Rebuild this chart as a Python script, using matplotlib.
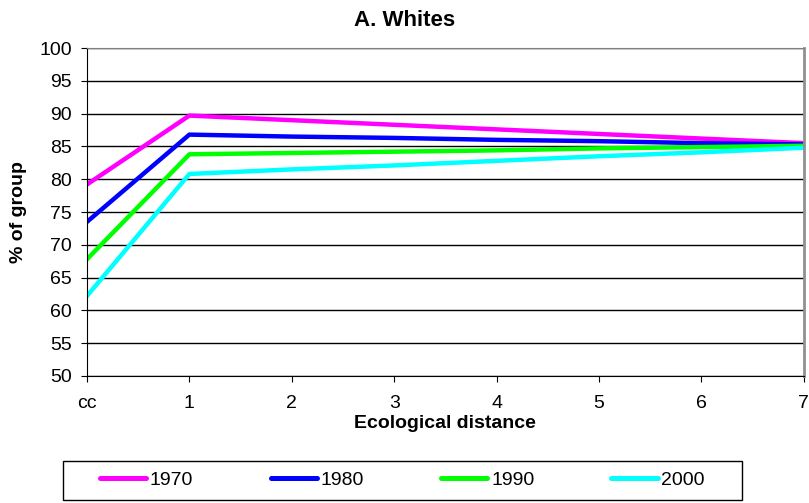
import matplotlib
matplotlib.use("Agg")
import matplotlib.pyplot as plt
from matplotlib.patches import Rectangle

categories = ["cc", "1", "2", "3", "4", "5", "6", "7"]
years = ["1970", "1980", "1990", "2000"]
colors = ["#ff00ff", "#0000ff", "#00ff00", "#00ffff"]
v1970 = [79.2, 89.7, 89.0, 88.3, 87.6, 86.9, 86.2, 85.5]
v1980 = [73.5, 86.8, 86.5, 86.3, 86.0, 85.8, 85.5, 85.3]
v1990 = [67.8, 83.8, 84.0, 84.2, 84.4, 84.7, 84.9, 85.1]
v2000 = [62.2, 80.8, 81.5, 82.1, 82.8, 83.5, 84.1, 84.8]
series = [v1970, v1980, v1990, v2000]

plt.rcParams['font.family'] = ['Liberation Sans', 'DejaVu Sans']

fig = plt.figure(figsize=(8.09, 5.03), dpi=100)
ax = fig.add_axes([0.1075, 0.2525, 0.886, 0.652])

x = list(range(len(categories)))
for vals, lab, c in zip(series, years, colors):
    ax.plot(x, vals, color=c, lw=3.2, label=lab)

ax.set_xlim(0, len(categories) - 1)
ax.set_ylim(50, 100)
ax.set_yticks(range(50, 101, 5))
ax.set_xticks(x)
ax.set_xticklabels(categories)
ax.yaxis.grid(True, color='black', lw=1)
ax.set_axisbelow(True)
ax.tick_params(axis='y', labelsize=14, length=4, direction='out', pad=7)
ax.tick_params(axis='x', labelsize=14, length=4, direction='out', pad=10)
ax.spines['top'].set_color('#808080')
ax.spines['right'].set_color('#909090')
ax.spines['right'].set_linewidth(2)

ax.set_xlabel("Ecological distance", fontsize=14, fontweight='bold', labelpad=2)
ax.set_ylabel("% of group", fontsize=14, fontweight='bold', labelpad=9)
fig.suptitle("A. Whites", x=0.5, y=1 - 26 / 503, va='baseline',
             fontsize=16, fontweight='bold')

# legend box
fig.patches.append(Rectangle((63 / 809, 3 / 503), 679 / 809, 39 / 503,
                             transform=fig.transFigure, fill=False,
                             edgecolor='black', lw=1))
handles, labels = ax.get_legend_handles_labels()
leg = fig.legend(handles, labels, loc='center', bbox_to_anchor=(0.4975, 0.0457),
                 ncol=4, frameon=False, fontsize=14, handlelength=2.37,
                 handletextpad=0.2, columnspacing=3.97, borderpad=0.2)
for h in leg.get_lines():
    h.set_linewidth(3.6)
    h.set_solid_capstyle('round')

fig.savefig("out.png", dpi=100)
